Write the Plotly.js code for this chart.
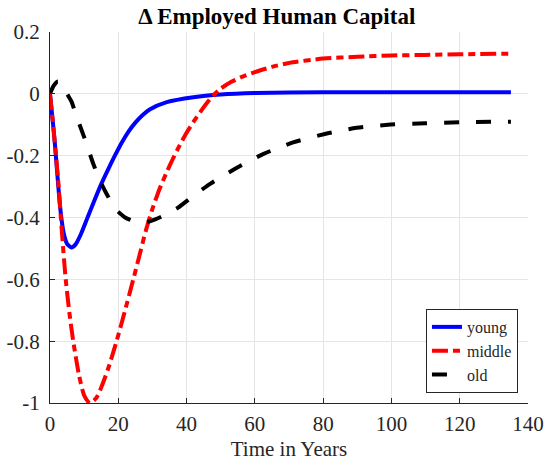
<!DOCTYPE html>
<html>
<head>
<meta charset="utf-8">
<script src="https://cdn.plot.ly/plotly-3.0.1.min.js"></script>
<style>html,body{margin:0;padding:0;background:#fff;}#chart{width:547px;height:464px;}</style>
</head>
<body>
<div id="chart"></div>
<script>
// Series: young (blue solid)
const youngT = [0, 1, 1.5, 2, 3, 4, 5, 6.3, 7.5, 9, 11, 13, 15, 17, 19, 21, 23, 25, 27, 29.3, 34.2, 42, 50, 60, 80, 100, 135];
const youngY = [0, -0.11, -0.17, -0.24, -0.37, -0.45, -0.485, -0.497, -0.487, -0.455, -0.4, -0.345, -0.292, -0.245, -0.2, -0.158, -0.122, -0.093, -0.07, -0.05, -0.027, -0.011, -0.002, 0.003, 0.005, 0.005, 0.005];

// Series: middle (red dash-dot)
const middleT = [0, 1, 2.4, 3.5, 4.6, 5.7, 6.8, 8.5, 10, 11.7, 13.5, 15, 17, 19.5, 22, 24.4, 26.5, 28, 30, 32, 34, 36, 38, 40, 42, 44, 46, 48, 50, 53, 56, 60, 65, 70, 80, 90, 100, 110, 120, 135];
const middleY = [0, -0.11, -0.28, -0.45, -0.6, -0.71, -0.8, -0.91, -0.975, -1.0, -0.985, -0.95, -0.89, -0.8, -0.7, -0.6, -0.51, -0.445, -0.372, -0.31, -0.258, -0.21, -0.166, -0.126, -0.091, -0.059, -0.029, -0.003, 0.017, 0.038, 0.054, 0.07, 0.087, 0.1, 0.114, 0.12, 0.124, 0.126, 0.128, 0.13];

// Series: old (black dashed)
const oldT = [0, 1, 2.3, 3.5, 5, 6.3, 8, 10, 12.7, 14.6, 16.6, 19, 22, 25, 27.8, 31, 34, 37.5, 42, 46.8, 50, 54.6, 62.4, 71.2, 80.5, 89.8, 99, 110, 120, 135];
const oldY = [0, 0.025, 0.04, 0.032, 0.0, -0.025, -0.08, -0.14, -0.227, -0.28, -0.324, -0.37, -0.40, -0.413, -0.416, -0.405, -0.39, -0.368, -0.33, -0.292, -0.27, -0.24, -0.195, -0.157, -0.13, -0.11, -0.1, -0.095, -0.092, -0.09];

const seriesNames = ["young", "middle", "old"];
const xTickVals = [0, 20, 40, 60, 80, 100, 120, 140];
const xTickText = ["0", "20", "40", "60", "80", "100", "120", "140"];
const yTickVals = [0.2, 0, -0.2, -0.4, -0.6, -0.8, -1];
const yTickText = ["0.2", "0", "-0.2", "-0.4", "-0.6", "-0.8", "-1"];

const serif = "'Liberation Serif', 'Times New Roman', serif";

const traces = [
  {x: youngT, y: youngY, name: seriesNames[0], mode: "lines", line: {color: "#0000ff", width: 4, shape: "spline", smoothing: 0.6}},
  {x: middleT, y: middleY, name: seriesNames[1], mode: "lines", line: {color: "#ff0000", width: 4, dash: "16px,5px,7px,5px", shape: "spline", smoothing: 0.6}},
  {x: oldT, y: oldY, name: seriesNames[2], mode: "lines", line: {color: "#000000", width: 4, dash: "15px,17px", shape: "spline", smoothing: 0.6}}
];

const axisCommon = {
  showline: true, linecolor: "#262626", linewidth: 1,
  ticks: "inside", ticklen: 5, tickcolor: "#262626", tickwidth: 1,
  showgrid: true, gridcolor: "#e5e5e5", gridwidth: 1,
  zeroline: false, mirror: false,
  tickfont: {family: serif, size: 21, color: "#262626"}
};

const layout = {
  width: 547, height: 464,
  margin: {l: 50, r: 19, t: 32, b: 61},
  paper_bgcolor: "#ffffff", plot_bgcolor: "#ffffff",
  title: {text: "<b>\u0394 Employed Human Capital</b>", font: {family: serif, size: 23, color: "#000"}, x: 0.506, xanchor: "center", y: 0.965, yanchor: "middle"},
  xaxis: Object.assign({}, axisCommon, {range: [0, 140], tickvals: xTickVals, ticktext: xTickText, ticklabelstandoff: 2,
    title: {text: "Time in Years", font: {family: serif, size: 21, color: "#262626"}, standoff: 6}}),
  yaxis: Object.assign({}, axisCommon, {range: [-1, 0.2], tickvals: yTickVals, ticktext: yTickText, ticklabelstandoff: 5}),
  showlegend: true,
  legend: {x: 0.979, y: 0.027, xanchor: "right", yanchor: "bottom", bgcolor: "#ffffff", bordercolor: "#262626", borderwidth: 1,
    font: {family: serif, size: 16, color: "#262626"}, tracegroupgap: 0, itemwidth: 30}
};

Plotly.newPlot("chart", traces, layout, {displayModeBar: false, staticPlot: true});
</script>
</body>
</html>
